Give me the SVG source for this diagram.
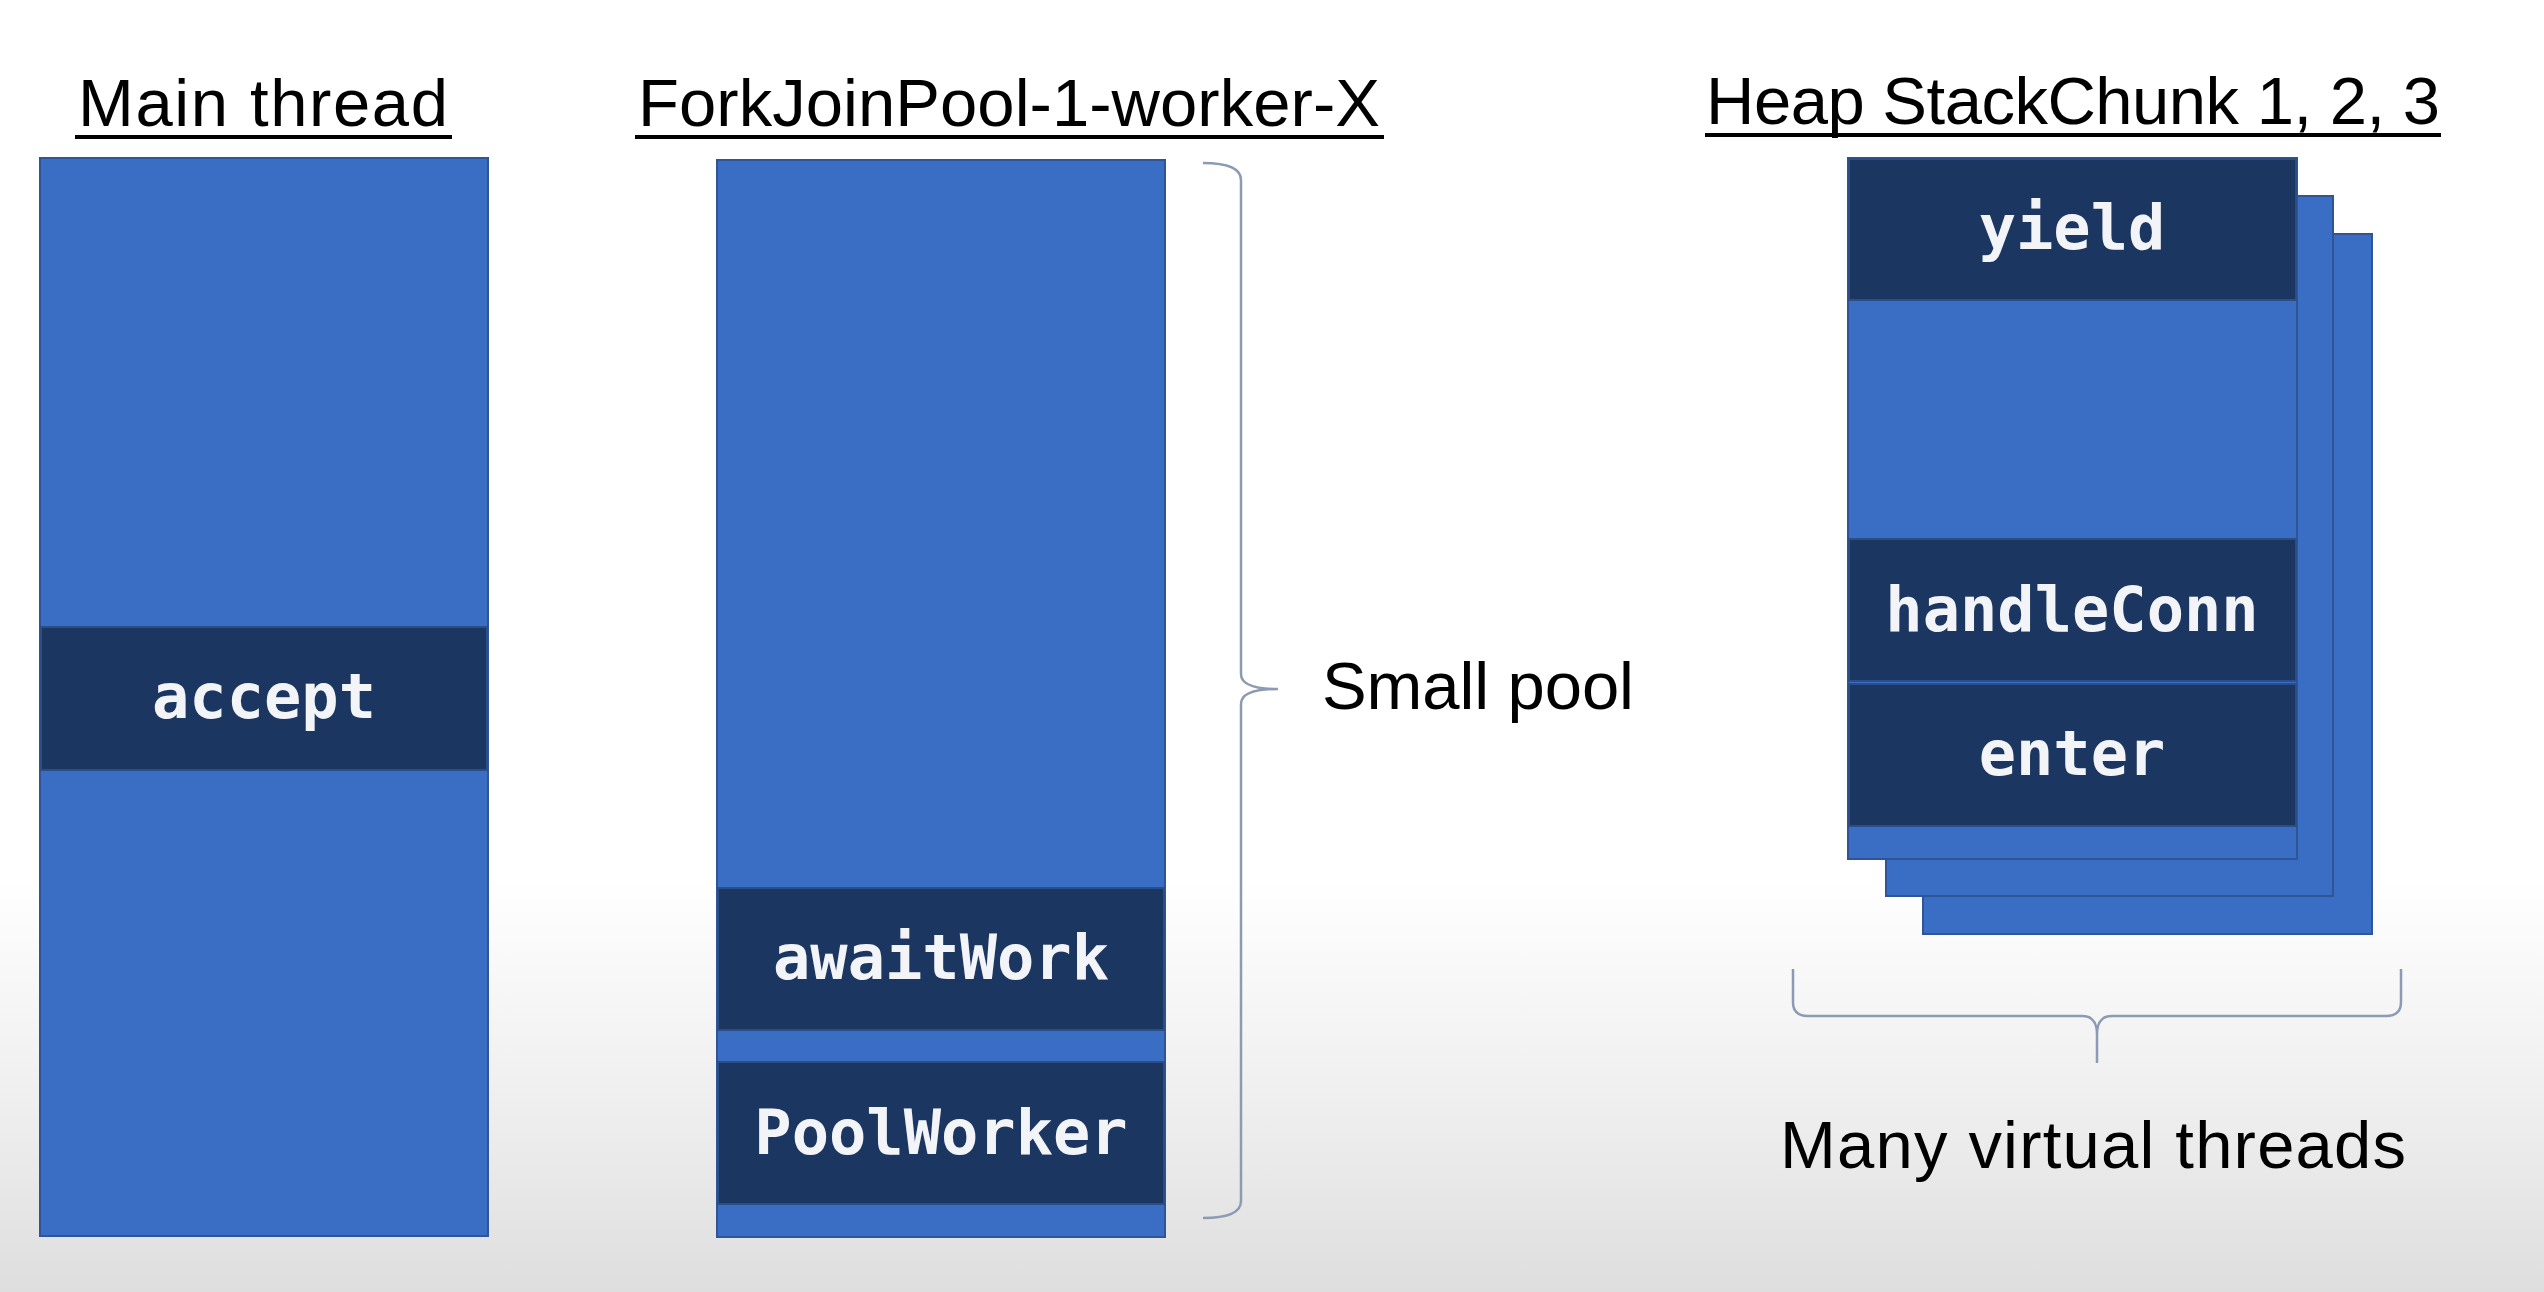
<svg xmlns="http://www.w3.org/2000/svg" width="2544" height="1292" viewBox="0 0 2544 1292">
<defs>
<linearGradient id="bg" x1="0" y1="0" x2="0" y2="1">
<stop offset="0" stop-color="#ffffff"/>
<stop offset="0.68" stop-color="#ffffff"/>
<stop offset="0.88" stop-color="#ececec"/>
<stop offset="1" stop-color="#dedede"/>
</linearGradient>
</defs>
<style>
.title{font-family:"Liberation Sans",Arial,sans-serif;font-size:67px;fill:#000}
.label{font-family:"Liberation Sans",Arial,sans-serif;font-size:67px;fill:#000}
.ul{stroke:#000;stroke-width:4}
.stack{fill:#3a6ec5;stroke:#2f5597;stroke-width:2}
.frame{fill:#1b3660;stroke:#2a4f88;stroke-width:2}
.code{font-family:"DejaVu Sans Mono","Liberation Mono",monospace;font-size:62px;font-weight:bold;fill:#f2f4f8;text-anchor:middle}
.brace{fill:none;stroke:#8c9bb3;stroke-width:2.5}
</style>
<rect x="0" y="0" width="2544" height="1292" fill="url(#bg)"/>

<g id="title-main">
<text class="title" x="78" y="126" textLength="370" lengthAdjust="spacing">Main thread</text>
<line class="ul" x1="75" y1="137" x2="452" y2="137"/>
</g>
<g id="title-fork">
<text class="title" x="638" y="126" textLength="742" lengthAdjust="spacing">ForkJoinPool-1-worker-X</text>
<line class="ul" x1="635" y1="137" x2="1384" y2="137"/>
</g>
<g id="title-heap">
<text class="title" x="1706" y="124" textLength="734" lengthAdjust="spacing">Heap StackChunk 1, 2, 3</text>
<line class="ul" x1="1705" y1="135" x2="2441" y2="135"/>
</g>

<g id="main-thread">
<rect class="stack" x="40" y="158" width="448" height="1078"/>
<rect class="frame" x="41" y="627" width="446" height="143"/>
<text class="code" x="264" y="718">accept</text>
</g>

<g id="fork-worker">
<rect class="stack" x="717" y="160" width="448" height="1077"/>
<rect class="frame" x="718" y="888" width="446" height="142"/>
<text class="code" x="941" y="979">awaitWork</text>
<rect class="frame" x="718" y="1062" width="446" height="142"/>
<text class="code" x="941" y="1154">PoolWorker</text>
</g>

<g id="heap-chunk-3">
<rect class="stack" x="1923" y="234" width="449" height="700"/>
</g>
<g id="heap-chunk-2">
<rect class="stack" x="1886" y="196" width="447" height="700"/>
</g>
<g id="heap-chunk-1">
<rect class="stack" x="1848" y="158" width="449" height="701"/>
<rect class="frame" x="1849" y="159" width="447" height="141"/>
<text class="code" x="2072" y="249">yield</text>
<rect class="frame" x="1849" y="539" width="447" height="142"/>
<text class="code" x="2072" y="631">handleConn</text>
<rect class="frame" x="1849" y="684" width="447" height="142"/>
<text class="code" x="2072" y="775">enter</text>
</g>

<g id="connectors">
<path class="brace" d="M1203,163 Q1241,163 1241,180 L1241,674 Q1241,689 1278,689 Q1241,689 1241,704 L1241,1201 Q1241,1218 1203,1218"/>
<path class="brace" d="M1793,969 L1793,1002 Q1793,1016 1808,1016 L2082,1016 Q2097,1016 2097,1034 L2097,1063 M2097,1034 Q2097,1016 2112,1016 L2386,1016 Q2401,1016 2401,1002 L2401,969"/>
</g>

<g id="label-small-pool">
<text class="label" x="1322" y="709" textLength="312" lengthAdjust="spacing">Small pool</text>
</g>
<g id="label-many-virtual">
<text class="label" x="1780" y="1168" textLength="626" lengthAdjust="spacing">Many virtual threads</text>
</g>
</svg>
